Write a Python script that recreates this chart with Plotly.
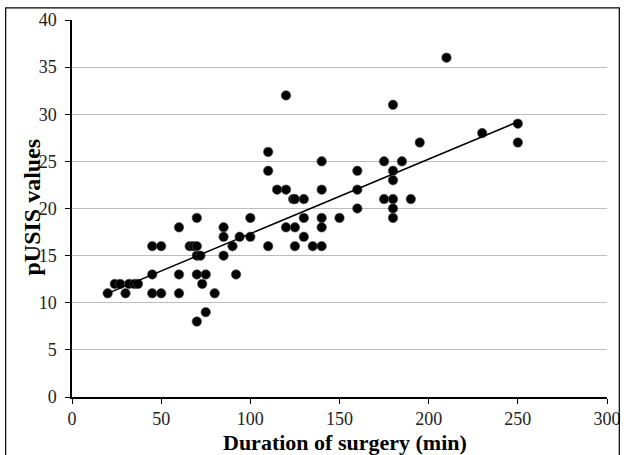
import plotly.graph_objects as go

duration = [20, 24, 27, 30, 32, 35, 37, 45, 45, 45, 50, 50, 60, 60, 60,
            66, 68, 70, 70, 70, 70, 70, 72, 73, 75, 75, 80, 85, 85, 85,
            90, 92, 94, 100, 100, 110, 110, 110, 115, 120, 120, 120,
            124, 125, 125, 125, 130, 130, 130, 135, 140, 140, 140, 140, 140,
            150, 160, 160, 160, 175, 175, 180, 180, 180, 180, 180, 180,
            185, 190, 195, 210, 230, 250, 250]
pusis = [11, 12, 12, 11, 12, 12, 12, 13, 16, 11, 16, 11, 18, 13, 11,
         16, 16, 16, 19, 15, 13, 8, 15, 12, 13, 9, 11, 18, 17, 15,
         16, 13, 17, 19, 17, 26, 24, 16, 22, 32, 22, 18,
         21, 21, 18, 16, 21, 19, 17, 16, 25, 22, 19, 18, 16,
         19, 24, 22, 20, 25, 21, 31, 24, 23, 21, 20, 19,
         25, 21, 27, 36, 28, 29, 27]

# linear trend line endpoints
trend_x = [20, 250]
trend_y = [11.0, 29.2]

x_ticks = [0, 50, 100, 150, 200, 250, 300]
y_ticks = [0, 5, 10, 15, 20, 25, 30, 35, 40]

fig = go.Figure()
fig.add_trace(go.Scatter(
    x=duration, y=pusis, mode="markers",
    marker=dict(color="black", size=9.5, line=dict(color="#555555", width=0.6)),
    showlegend=False, cliponaxis=False))
fig.add_trace(go.Scatter(
    x=trend_x, y=trend_y, mode="lines", line=dict(color="black", width=1.5),
    showlegend=False))

serif = "Liberation Serif"
fig.update_layout(
    width=624, height=455,
    margin=dict(l=71.5, r=16.5, t=20, b=58, autoexpand=False),
    paper_bgcolor="white", plot_bgcolor="white",
    font=dict(family=serif, size=18, color="#222222"),
    xaxis=dict(
        range=[0, 300], tickvals=x_ticks, showgrid=False, zeroline=False,
        showline=True, linecolor="black", linewidth=1.5, automargin=False,
        ticks="outside", ticklen=5, tickcolor="black", tickwidth=1,
        tickfont=dict(family=serif, size=18, color="#222222"),
    ),
    yaxis=dict(
        range=[0, 40], tickvals=y_ticks, showgrid=True, gridcolor="#bdbdbd",
        gridwidth=1, zeroline=False, automargin=False,
        showline=True, linecolor="black", linewidth=1.5,
        ticks="outside", ticklen=5, tickcolor="black", tickwidth=1,
        ticklabelstandoff=5,
        tickfont=dict(family=serif, size=18, color="#222222"),
    ),
)
fig.add_annotation(text="<b>Duration of surgery (min)</b>", xref="paper", yref="paper",
                   x=0.51, y=-0.121, xanchor="center", yanchor="middle",
                   showarrow=False, font=dict(family=serif, size=22, color="black"))
fig.add_annotation(text="<b>pUSIS values</b>", xref="paper", yref="paper",
                   x=-0.0745, y=0.503, xanchor="center", yanchor="middle",
                   textangle=-90, showarrow=False,
                   font=dict(family=serif, size=24, color="black"))
fig.add_shape(type="rect", xref="paper", yref="paper",
              x0=-0.124, x1=1.023, y0=-0.16, y1=1.032,
              line=dict(color="black", width=1.2), fillcolor="rgba(0,0,0,0)",
              layer="above")

fig.write_html("out.html", config={"displayModeBar": False},
               post_script="document.body.style.margin='0';"
                           "document.body.style.overflow='hidden';")
